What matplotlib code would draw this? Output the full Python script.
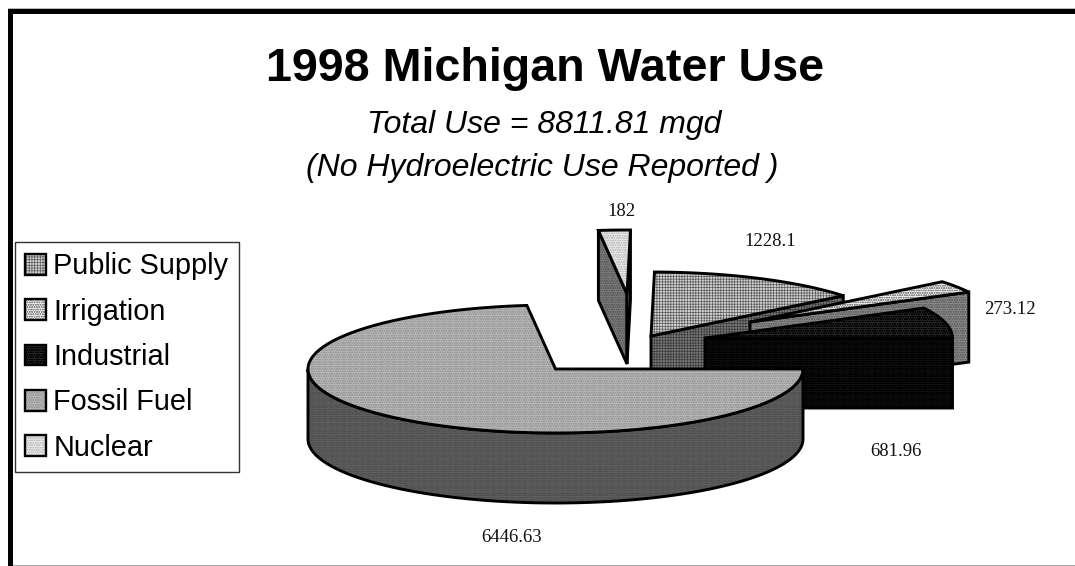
import numpy as np
import matplotlib
matplotlib.use('Agg')
import matplotlib.pyplot as plt
from matplotlib.patches import Polygon, Patch, Rectangle
from matplotlib.legend_handler import HandlerTuple

# data, in legend order (clockwise round the pie)
names = ['Public Supply', 'Irrigation', 'Industrial', 'Fossil Fuel', 'Nuclear']
values = [1228.1, 273.12, 681.96, 6446.63, 182]
value_labels = ['1228.1', '273.12', '681.96', '6446.63', '182']
title = '1998 Michigan Water Use'
subtitle = ['Total Use = 8811.81 mgd', '(No Hydroelectric Use Reported )']

# pie geometry, in pixels
first_angle = 89.2
rx, ry, depth = 247.5, 64, 70
centers = [(651, 336), (750, 322), (705, 338), (555.5, 369), (627, 294)]
label_pos = [(770, 242), (1010, 310), (896, 451), (512, 537), (621, 212)]
draw_order = [4, 0, 1, 2, 3]

# top face: fill, hatch colour, hatch  /  side face: fill, hatch colour, hatch
top_style = [('#d2d2d2', '#5a5a5a', '++++++'),
             ('#f6f6f6', '#8a8a8a', 'ooooooo'),
             ('#2c2c2c', '#000000', 'ooooooo'),
             ('#bababa', '#9c9c9c', 'ooooooo'),
             ('#ececec', '#c4c4c4', 'ooooooo')]
side_style = [('#777777', '#3a3a3a', '++++++'),
              ('#8c8c8c', '#666666', 'ooooooo'),
              ('#111111', '#000000', 'ooooooo'),
              ('#616161', '#505050', 'ooooooo'),
              ('#7c7c7c', '#606060', 'ooooooo')]

plt.rcParams['hatch.linewidth'] = 0.5
plt.rcParams['font.family'] = 'Liberation Sans'

fig = plt.figure(figsize=(10.75, 5.66), dpi=100)
ax = fig.add_axes([0, 0, 1, 1])
ax.set_xlim(0, 1075)
ax.set_ylim(566, 0)
ax.axis('off')


def rim(cx, cy, a, dy=0):
    a = np.radians(a)
    return np.column_stack([cx + rx * np.cos(a), cy - ry * np.sin(a) + dy])


def face(pts, style, zorder):
    fc, hc, hatch = style
    ax.add_patch(Polygon(pts, closed=True, facecolor=fc, edgecolor='none', zorder=zorder))
    ax.add_patch(Polygon(pts, closed=True, facecolor='none', edgecolor=hc, hatch=hatch,
                         linewidth=0, zorder=zorder))
    ax.add_patch(Polygon(pts, closed=True, facecolor='none', edgecolor='black',
                         linewidth=2.1, joinstyle='miter', zorder=zorder))


spans = np.array(values) / sum(values) * 360
starts = first_angle - np.concatenate([[0], np.cumsum(spans)[:-1]])

for z, i in enumerate(draw_order):
    cx, cy = centers[i]
    a0, a1 = starts[i], starts[i] - spans[i]
    zorder = 2 + z

    # cut faces that look towards the viewer
    for a, visible in ((a0, np.cos(np.radians(a0)) < 0), (a1, np.cos(np.radians(a1)) > 0)):
        if visible:
            tip = rim(cx, cy, np.array([a]))[0]
            face([(cx, cy), tip, (tip[0], tip[1] + depth), (cx, cy + depth)], side_style[i], zorder)

    # outer wall, only the part on the near half
    if a1 < 0 and a0 > -180:
        angles = np.linspace(min(a0, 0), max(a1, -180), 120)
        face(np.vstack([rim(cx, cy, angles), rim(cx, cy, angles[::-1], depth)]), side_style[i], zorder)

    arc = rim(cx, cy, np.linspace(a0, a1, 200))
    face(np.vstack([[(cx, cy)], arc]), top_style[i], zorder)

for lab, (x, y) in zip(value_labels, label_pos):
    ax.text(x, y, lab, family='Liberation Serif', fontsize=13.5, ha='center', va='center', color='#111111', zorder=10)

ax.text(545.5, 81, title, fontsize=33.6, fontweight='bold', ha='center', va='baseline')
ax.text(544.5, 133, subtitle[0], fontsize=23, style='italic', ha='center', va='baseline')
ax.text(542.5, 176, subtitle[1], fontsize=23, style='italic', ha='center', va='baseline')

handles = []
for fc, hc, hatch in top_style:
    handles.append((Patch(facecolor=fc, edgecolor='none'),
                    Patch(facecolor='none', edgecolor=hc, hatch=hatch, linewidth=0),
                    Patch(facecolor='none', edgecolor='black', linewidth=1.7)))
ax.legend(handles, names, loc='upper left', bbox_to_anchor=(15, 242), bbox_transform=ax.transData,
          borderaxespad=0, fontsize=20.8, handlelength=0.72, handleheight=0.72, handletextpad=0.24,
          labelspacing=0.6, borderpad=0.36, fancybox=False, framealpha=1, edgecolor='#333333',
          handler_map={tuple: HandlerTuple(ndivide=1, pad=0)})

# slide frame
ax.add_patch(Rectangle((8, 8), 1067, 1, fc='#b8b8b8', ec='none', zorder=20))
ax.add_patch(Rectangle((8, 9), 1067, 5, fc='black', ec='none', zorder=20))
ax.add_patch(Rectangle((8, 9), 5, 557, fc='black', ec='none', zorder=20))
ax.add_patch(Rectangle((13, 565), 1062, 1, fc='#a8a8a8', ec='none', zorder=20))

fig.savefig('out.png', dpi=100)
